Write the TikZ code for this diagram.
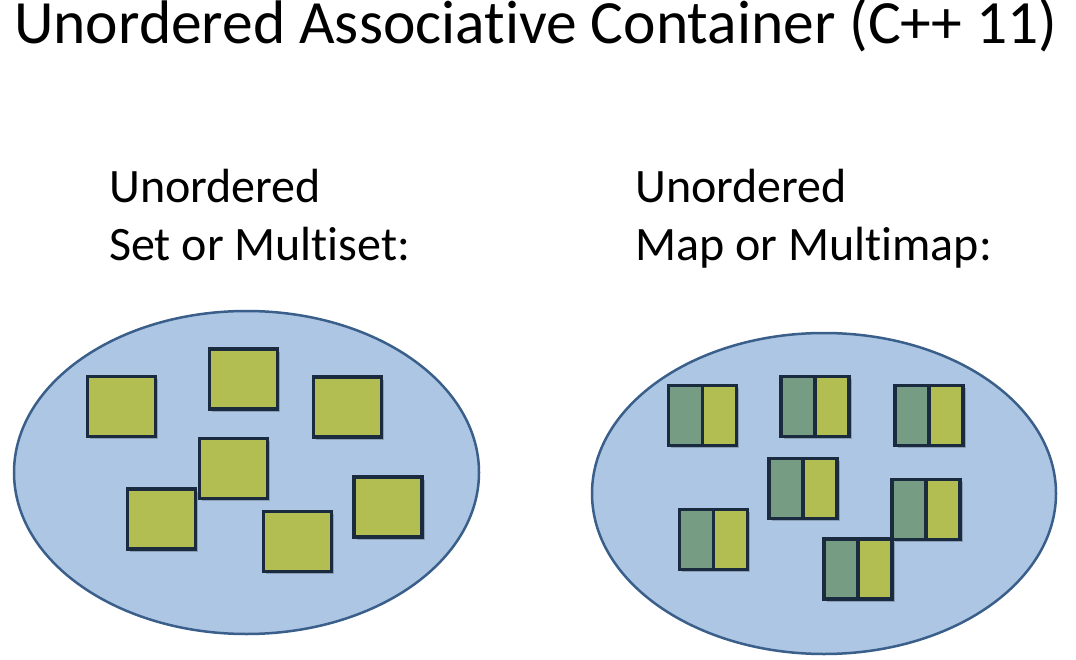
\documentclass[tikz,border=0pt]{standalone}
\usepackage{fontspec}
\setmainfont[Ligatures=NoCommon,RawFeature={-liga;-clig;-dlig}]{Carlito}
\usetikzlibrary{shapes.geometric,shadows}
\definecolor{ellfill}{RGB}{173,198,228}
\definecolor{elldraw}{RGB}{58,95,138}
\definecolor{boxgreen}{RGB}{179,190,82}
\definecolor{keygreen}{RGB}{118,156,132}
\definecolor{boxline}{RGB}{26,43,64}
\tikzset{
  titletext/.style={anchor=base west, inner sep=0pt, font=\fontsize{61.5}{70}\selectfont},
  labeltext/.style={anchor=base west, inner sep=0pt, font=\fontsize{48}{58}\selectfont},
  container/.style={ellipse, draw=elldraw, fill=ellfill, line width=2.5pt, inner sep=0pt},
  elem/.style={rectangle, draw=boxline, fill=boxgreen, line width=3.5pt, inner sep=0pt,
    minimum width=68pt, minimum height=60pt,
    drop shadow={shadow xshift=2.5pt, shadow yshift=-2.5pt, opacity=0.2, fill=black}},
  kvelem/.style={elem, path picture={
      \fill[keygreen] (path picture bounding box.south west) rectangle (path picture bounding box.north);
      \draw[boxline, line width=3.5pt] (path picture bounding box.south) -- (path picture bounding box.north);}}
}
\begin{document}
\begin{tikzpicture}[x=1pt,y=-1pt]
\useasboundingbox[fill=white] (0,0) rectangle (1076,660);
\node[titletext] (title) at (14,44) {Unordered Associat\kern0pt ive Container (C++ 11)};
\node[labeltext] (l1a) at (109,203) {Unordered};
\node[labeltext] (l1b) at (109,261) {Set or Mult\kern0pt iset:};
\node[labeltext] (l2a) at (635,203) {Unordered};
\node[labeltext] (l2b) at (635,261) {Map or Mult\kern0pt imap:};
% left container
\node[container, minimum width=465pt, minimum height=323pt] (setc) at (246.5,472.5) {};
\node[elem] (s1) at (121.5,406.5) {};
\node[elem] (s2) at (243.5,379) {};
\node[elem] (s3) at (347.5,407) {};
\node[elem] (s5) at (161.5,519) {};
\node[elem] (s4) at (233.5,468.5) {};
\node[elem] (s6) at (297.5,541.5) {};
\node[elem] (s7) at (388,507) {};
% right container
\node[container, minimum width=464pt, minimum height=321pt] (mapc) at (824,493.5) {};
\node[kvelem] (m1) at (702.5,415.5) {};
\node[kvelem] (m2) at (815,406.5) {};
\node[kvelem] (m3) at (929,415.5) {};
\node[kvelem] (m4) at (803,488.5) {};
\node[kvelem] (m5) at (713.5,539.5) {};
\node[kvelem] (m6) at (926,509.5) {};
\node[kvelem] (m7) at (858,569) {};
\end{tikzpicture}
\end{document}
